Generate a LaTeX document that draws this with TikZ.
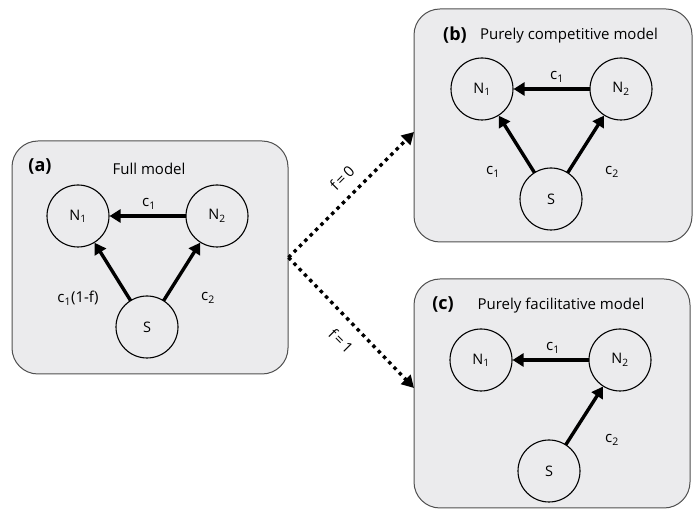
\documentclass[tikz,border=0pt]{standalone}
\usepackage{fontspec}
\setmainfont{Open Sans}
\usetikzlibrary{arrows.meta}
\definecolor{boxfill}{HTML}{EBEBED}
\definecolor{boxline}{HTML}{505050}
\begin{document}
\begin{tikzpicture}[x=1pt,y=-1pt,
  panel/.style={draw=boxline, fill=boxfill, line width=1pt, rounded corners=26pt, inner sep=0pt},
  species/.style={circle, draw=black, line width=1.1pt, fill=boxfill, minimum size=62pt, inner sep=0pt, font=\fontsize{14.5}{16}\selectfont},
  flow/.style={line width=3.4pt, -{Triangle[length=11pt,width=13pt]}, shorten <=-0.5pt},
  switch/.style={line width=3.4pt, dash pattern=on 3.4pt off 4.2pt, -{Triangle[length=12pt,width=13pt]}},
  lab/.style={font=\fontsize{15}{17}\selectfont, inner sep=0pt},
  tag/.style={font=\fontsize{18}{20}\selectfont\bfseries, inner sep=0pt},
  title/.style={font=\fontsize{15}{17}\selectfont, inner sep=0pt}]
\useasboundingbox (0,0) rectangle (697,510);
% panels
\node[panel, minimum width=276pt, minimum height=233pt] (A) at (150,257.5) {};
\node[panel, minimum width=278pt, minimum height=233pt] (B) at (553,125.5) {};
\node[panel, minimum width=276pt, minimum height=229pt] (C) at (552,393.5) {};
% panel (a)
\node[tag] (Atag) at (40,167) {(a)};
\node[title] (Atitle) at (149,169) {Full model};
\node[species] (aN1) at (78,216) {N\textsubscript{1}};
\node[species] (aN2) at (217,216) {N\textsubscript{2}};
\node[species] (aS) at (147,327) {S};
\draw[flow] (aN2) -- (aN1);
\draw[flow] (aS) -- (aN1);
\draw[flow] (aS) -- (aN2);
\node[lab] (al1) at (149,204) {c\textsubscript{1}};
\node[lab] (al2) at (78,298) {c\textsubscript{1}(1-f)};
\node[lab] (al3) at (208,298) {c\textsubscript{2}};
% panel (b)
\node[tag] (Btag) at (455,35) {(b)};
\node[title] (Btitle) at (569,36) {Purely competitive model};
\node[species] (bN1) at (482,89) {N\textsubscript{1}};
\node[species] (bN2) at (621,89) {N\textsubscript{2}};
\node[species] (bS) at (551,199) {S};
\draw[flow] (bN2) -- (bN1);
\draw[flow] (bS) -- (bN1);
\draw[flow] (bS) -- (bN2);
\node[lab] (bl1) at (557,77) {c\textsubscript{1}};
\node[lab] (bl2) at (493,172) {c\textsubscript{1}};
\node[lab] (bl3) at (612,172) {c\textsubscript{2}};
% panel (c)
\node[tag] (Ctag) at (443,305) {(c)};
\node[title] (Ctitle) at (561,306) {Purely facilitative model};
\node[species] (cN1) at (481,360) {N\textsubscript{1}};
\node[species] (cN2) at (620,360) {N\textsubscript{2}};
\node[species] (cS) at (549,471) {S};
\draw[flow] (cN2) -- (cN1);
\draw[flow] (cS) -- (cN2);
\node[lab] (cl1) at (553,348) {c\textsubscript{1}};
\node[lab] (cl3) at (612,440) {c\textsubscript{2}};
% switches
\coordinate (split) at (A.east);
\coordinate (toB) at (414,132);
\coordinate (toC) at (414,388);
\draw[switch] (split) -- (toB);
\draw[switch] (split) -- (toC);
\node[lab, rotate=45] (f0) at (342,178) {f\,=\,0};
\node[lab, rotate=-45] (f1) at (341,341) {f\,=\,1};
\end{tikzpicture}
\end{document}
